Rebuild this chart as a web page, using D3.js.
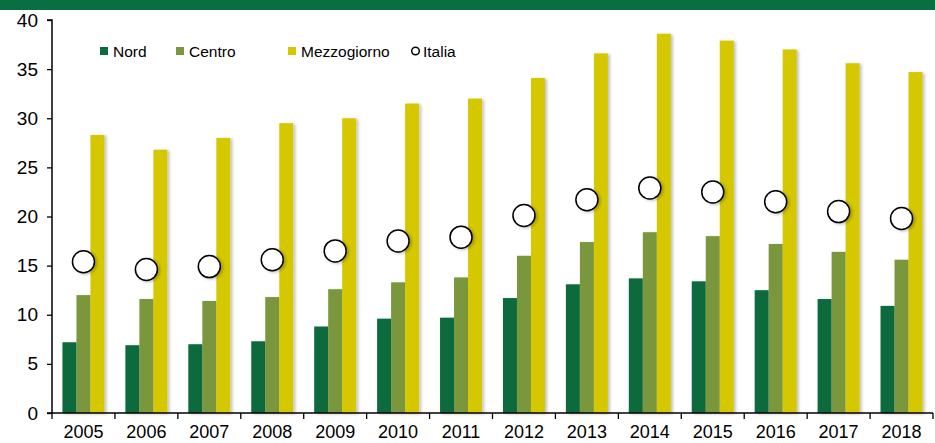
<!DOCTYPE html>
<html>
<head>
<meta charset="utf-8">
<script src="https://cdnjs.cloudflare.com/ajax/libs/d3/7.8.5/d3.min.js"></script>
<style>
body { margin:0; background:#fff; }
svg { display:block; font-family:'Liberation Sans', Arial, sans-serif; }
</style>
</head>
<body>
<svg id="chart" width="935" height="443"></svg>
<script>
// data
var years = ['2005','2006','2007','2008','2009','2010','2011','2012','2013','2014','2015','2016','2017','2018'];
var nord = [7.2,6.9,7.0,7.3,8.8,9.6,9.7,11.7,13.1,13.7,13.4,12.5,11.6,10.9];
var centro = [12.0,11.6,11.4,11.8,12.6,13.3,13.8,16.0,17.4,18.4,18.0,17.2,16.4,15.6];
var mezzogiorno = [28.3,26.8,28.0,29.5,30.0,31.5,32.0,34.1,36.6,38.6,37.9,37.0,35.6,34.7];
var italia = [15.4,14.6,14.9,15.6,16.5,17.5,17.9,20.1,21.7,22.9,22.5,21.5,20.5,19.8];
var yTicks = [0,5,10,15,20,25,30,35,40];

var colorNord = '#0a6b3e';
var colorCentro = '#7a973e';
var colorMezzo = '#d6c800';
var colorBand = '#0a6e45';

var svg = d3.select('#chart');

// shadow
var defs = svg.append('defs');
var shadow = defs.append('filter')
                 .attr('id','shadow')
                 .attr('x','-30%').attr('y','-10%')
                 .attr('width','170%').attr('height','130%');
shadow.append('feDropShadow')
      .attr('dx',2).attr('dy',1)
      .attr('stdDeviation',1.5)
      .attr('flood-color','#000')
      .attr('flood-opacity',0.25);

// top band
svg.append('rect')
   .attr('x',0).attr('y',0)
   .attr('width',935).attr('height',10)
   .attr('fill',colorBand);

var x = d3.scaleBand()
          .domain(years)
          .range([52,933])
          .paddingInner(0).paddingOuter(0);

var y = d3.scaleLinear()
          .domain([0,40])
          .range([413,20]);

var barW = 14;

// bars
var series = [
  {values:nord, color:colorNord, offset:-1.5},
  {values:centro, color:colorCentro, offset:-0.5},
  {values:mezzogiorno, color:colorMezzo, offset:0.5}
];

series.forEach(function(s){
  svg.append('g')
     .attr('filter','url(#shadow)')
     .selectAll('rect')
     .data(s.values)
     .enter()
     .append('rect')
     .attr('x',function(d,i){ return x(years[i]) + x.bandwidth()/2 + s.offset*barW; })
     .attr('y',function(d){ return y(d); })
     .attr('width',barW)
     .attr('height',function(d){ return y(0) - y(d); })
     .attr('fill',s.color);
});

// y axis
var yAxis = d3.axisLeft(y)
              .tickValues(yTicks)
              .tickSize(5)
              .tickPadding(9);
var gy = svg.append('g')
            .attr('transform','translate(52,0)')
            .call(yAxis);
gy.select('.domain').attr('stroke','#000').attr('stroke-width',1.5)
  .attr('d','M-5,20H0V413H-5');
gy.selectAll('line').attr('stroke','#000').attr('stroke-width',1.3);
gy.selectAll('text').style('font-size','19px').attr('fill','#000');

// x axis
var gx = svg.append('g')
            .attr('transform','translate(0,413)');
gx.append('line')
  .attr('x1',52).attr('x2',933)
  .attr('y1',0).attr('y2',0)
  .attr('stroke','#000').attr('stroke-width',1.5);
gx.selectAll('.tk')
  .data(years.concat(['end']))
  .enter()
  .append('line')
  .attr('class','tk')
  .attr('x1',function(d,i){ return 52 + i*x.step(); })
  .attr('x2',function(d,i){ return 52 + i*x.step(); })
  .attr('y1',0).attr('y2',6)
  .attr('stroke','#000').attr('stroke-width',1.3);
gx.selectAll('.lbl')
  .data(years)
  .enter()
  .append('text')
  .attr('class','lbl')
  .text(function(d){ return d; })
  .attr('x',function(d){ return x(d) + x.bandwidth()/2; })
  .attr('y',25)
  .attr('text-anchor','middle')
  .style('font-size','18px')
  .attr('fill','#000');

// italia circles
svg.append('g')
   .attr('filter','url(#shadow)')
   .selectAll('circle')
   .data(italia)
   .enter()
   .append('circle')
   .attr('cx',function(d,i){ return x(years[i]) + x.bandwidth()/2; })
   .attr('cy',function(d){ return y(d); })
   .attr('r',11)
   .attr('fill','#fff')
   .attr('stroke','#000')
   .attr('stroke-width',1.5);

// legend
var legend = svg.append('g');
var legendItems = [
  {label:'Nord', color:colorNord, x:100},
  {label:'Centro', color:colorCentro, x:176},
  {label:'Mezzogiorno', color:colorMezzo, x:288}
];
legendItems.forEach(function(l){
  legend.append('rect')
        .attr('x',l.x).attr('y',47)
        .attr('width',8).attr('height',8)
        .attr('fill',l.color);
  legend.append('text')
        .text(l.label)
        .attr('x',l.x+13).attr('y',57)
        .style('font-size','15.5px')
        .attr('fill','#000');
});
legend.append('circle')
      .attr('cx',415.5).attr('cy',51)
      .attr('r',3.8)
      .attr('fill','#fff')
      .attr('stroke','#000')
      .attr('stroke-width',1.5);
legend.append('text')
      .text('Italia')
      .attr('x',423).attr('y',57)
      .style('font-size','15.5px')
      .attr('fill','#000');
</script>
</body>
</html>
